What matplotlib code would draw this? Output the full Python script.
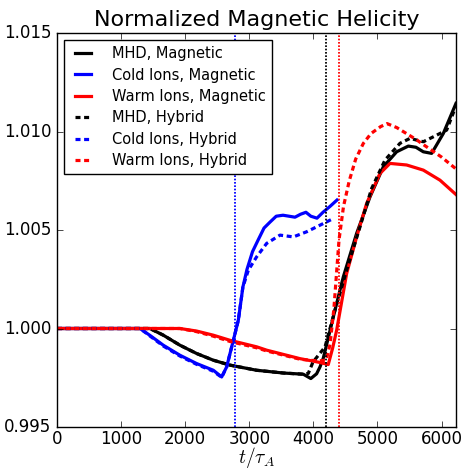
import matplotlib
matplotlib.use("Agg")
import matplotlib.pyplot as plt

# values
t_cold_mag = [0, 1000, 1295, 1450, 1659, 1919, 2179, 2439, 2569, 2647, 2751, 2829, 2900,
              2964, 3050, 3136, 3230, 3323, 3420, 3526, 3620, 3713, 3800, 3884, 3960, 4056,
              4150, 4260, 4368]
h_cold_mag = [1.0, 1.0, 1.0, 0.99965, 0.99915, 0.99864, 0.99822, 0.99788, 0.99754, 0.99805,
              0.9994, 1.00042, 1.0021, 1.0030, 1.0039, 1.00448, 1.0051, 1.0054, 1.0057,
              1.00575, 1.0057, 1.00565, 1.0058, 1.0059, 1.0057, 1.0056, 1.0059, 1.0062, 1.00652]

t_cold_hyb = [0, 1000, 1295, 1450, 1659, 1919, 2179, 2439, 2569, 2647, 2751, 2829, 2900,
              2985, 3115, 3271, 3479, 3687, 3895, 4051, 4285]
h_cold_hyb = [1.0, 1.0, 1.0, 0.99962, 0.99911, 0.9986, 0.99818, 0.99783, 0.99752, 0.99805,
              0.9994, 1.00042, 1.0021, 1.00296, 1.00364, 1.00432, 1.00474, 1.00465, 1.00491,
              1.00516, 1.00554]

t_mhd_mag = [0, 1000, 1450, 1659, 1919, 2179, 2439, 2700, 3115, 3530, 3842, 3960, 4050,
             4103, 4155, 4230, 4311, 4467, 4675, 4883, 5091, 5299, 5481, 5600, 5715, 5845,
             6027, 6225]
h_mhd_mag = [1.0, 1.0, 1.0, 0.99966, 0.99915, 0.99873, 0.99839, 0.99814, 0.99788, 0.99774,
             0.99768, 0.99746, 0.9977, 0.99805, 0.9985, 0.9995, 1.00059, 1.00262, 1.00483,
             1.00668, 1.00821, 1.00897, 1.00926, 1.0092, 1.00897, 1.00889, 1.0099, 1.01143]

t_mhd_hyb = [0, 1000, 1450, 1659, 1919, 2179, 2439, 2700, 3115, 3530, 3842, 3920, 3994,
             4181, 4337, 4519, 4727, 4909, 5117, 5351, 5507, 5715, 5871, 6079, 6225]
h_mhd_hyb = [1.0, 1.0, 1.0, 0.99966, 0.99915, 0.99873, 0.99839, 0.99814, 0.99788, 0.99774,
             0.99768, 0.99772, 0.9983, 0.99906, 1.00093, 1.00296, 1.00516, 1.00711, 1.00855,
             1.0094, 1.00965, 1.00948, 1.00973, 1.01007, 1.0113]

t_warm_mag = [0, 1000, 1919, 2179, 2439, 2700, 3115, 3271, 3791, 4080, 4232, 4300, 4363,
              4519, 4675, 4831, 5039, 5195, 5455, 5715, 5975, 6225]
h_warm_mag = [1.0, 1.0, 1.0, 0.99987, 0.99966, 0.9994, 0.99907, 0.9989, 0.99847, 0.99829,
              0.99817, 0.9990, 0.99991, 1.00279, 1.00465, 1.00635, 1.00787, 1.00838, 1.0083,
              1.00804, 1.00753, 1.0068]

t_warm_hyb = [0, 1000, 1919, 2179, 2439, 2700, 3115, 3271, 3791, 4077, 4200, 4260, 4320,
              4400, 4470, 4560, 4660, 4780, 4900, 5050, 5150, 5300, 5400, 5600, 5767, 6000,
              6225]
h_warm_hyb = [1.0, 1.0, 1.0, 0.99984, 0.99961, 0.99934, 0.99902, 0.99886, 0.99844, 0.99835,
              0.9984, 0.9992, 1.0010, 1.0045, 1.0062, 1.0075, 1.0086, 1.0094, 1.0099, 1.01025,
              1.0104, 1.0102, 1.0100, 1.0096, 1.00922, 1.0087, 1.0081]

# "onset" markers
t_onset = {"b": 2782, "k": 4190, "r": 4404}

plt.style.use("classic")
plt.rcParams["figure.facecolor"] = "white"
plt.rcParams["savefig.facecolor"] = "white"
plt.rcParams["lines.scale_dashes"] = False

fig = plt.figure(figsize=(4.65, 4.69), dpi=100)
ax = fig.add_axes([57 / 465, 1 - 427 / 469, 399 / 465, 394 / 469])

lw = 2.3
dash = (0, (3.6, 2.6))
ax.plot(t_mhd_mag, h_mhd_mag, "-", color="k", lw=lw, label="MHD, Magnetic")
ax.plot(t_cold_mag, h_cold_mag, "-", color="b", lw=lw, label="Cold Ions, Magnetic")
ax.plot(t_warm_mag, h_warm_mag, "-", color="r", lw=lw, label="Warm Ions, Magnetic")
ax.plot(t_mhd_hyb, h_mhd_hyb, linestyle=dash, color="k", lw=lw, label="MHD, Hybrid")
ax.plot(t_cold_hyb, h_cold_hyb, linestyle=dash, color="b", lw=lw, label="Cold Ions, Hybrid")
ax.plot(t_warm_hyb, h_warm_hyb, linestyle=dash, color="r", lw=lw, label="Warm Ions, Hybrid")

for c, t0 in t_onset.items():
    ax.axvline(t0, color=c, linestyle=(0, (1.2, 1.2)), lw=1.3)

ax.set_xlim(0, 6225)
ax.set_ylim(0.995, 1.015)
ax.set_xticks([0, 1000, 2000, 3000, 4000, 5000, 6000])
ax.set_yticks([0.995, 1.000, 1.005, 1.010, 1.015])
ax.set_yticklabels(["0.995", "1.000", "1.005", "1.010", "1.015"])
ax.tick_params(labelsize=12)
ax.tick_params(axis="x", pad=2)
ax.set_xlabel(r"$t/\tau_A$", fontsize=14, labelpad=-2)
ax.set_title("Normalized Magnetic Helicity", fontsize=16)

ax.legend(loc="upper left", fontsize=10.5, handlelength=1.7, handletextpad=1.2,
          labelspacing=0.44, borderaxespad=0.5, frameon=True)

fig.savefig("out.png", dpi=100)
